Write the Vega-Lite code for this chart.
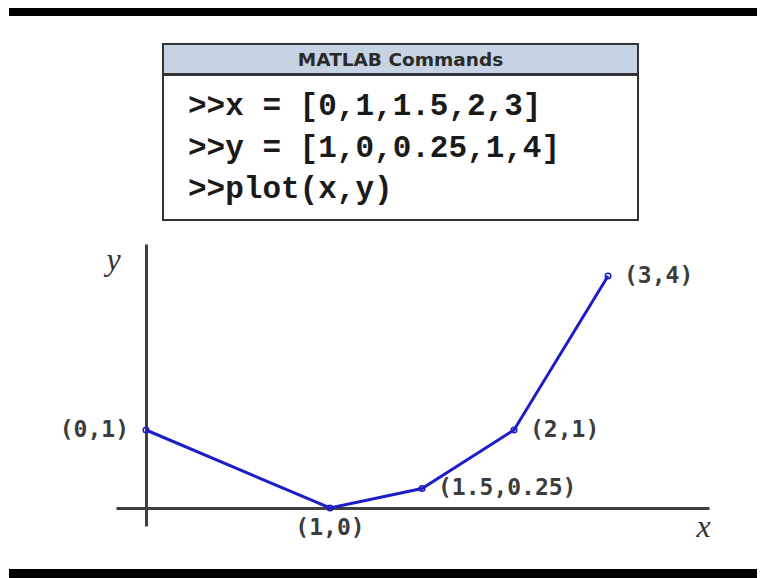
{
  "$schema": "https://vega.github.io/schema/vega-lite/v6.json",
  "background": "white",
  "padding": {"left": 9, "top": 8, "right": 0, "bottom": 0},
  "spacing": 27,
  "config": {"view": {"stroke": null}},
  "vconcat": [
    {
      "width": 748,
      "height": 8,
      "view": {"fill": "black", "stroke": null},
      "data": {"values": [{}]},
      "mark": {"type": "rect", "color": "black"},
      "encoding": {}
    },
    {
      "spacing": 22,
      "vconcat": [
        {
          "spacing": 0,
          "hconcat": [
            {
              "width": 153,
              "height": 1,
              "data": {"values": []},
              "mark": "point",
              "encoding": {}
            },
            {
              "spacing": -2,
              "vconcat": [
                {
                  "width": 475,
                  "height": 30,
                  "view": {"fill": "#c6d3e3", "stroke": "#333333", "strokeWidth": 2},
                  "data": {"values": [{"title": "MATLAB Commands"}]},
                  "mark": {"type": "text", "font": "DejaVu Sans", "fontWeight": "bold", "fontSize": 18.5, "color": "#2a2a2a", "baseline": "middle", "align": "center", "dy": 1},
                  "encoding": {"text": {"field": "title"}}
                },
                {
                  "width": 475,
                  "height": 145,
                  "view": {"fill": "white", "stroke": "#333333", "strokeWidth": 2},
                  "data": {"values": [
                    {"order": 1, "cmd": ">>x = [0,1,1.5,2,3]"},
                    {"order": 2, "cmd": ">>y = [1,0,0.25,1,4]"},
                    {"order": 3, "cmd": ">>plot(x,y)"}
                  ]},
                  "mark": {"type": "text", "font": "Liberation Mono", "fontWeight": "bold", "fontSize": 31, "color": "#1a1a1a", "align": "left", "baseline": "middle", "dx": -212.5},
                  "encoding": {
                    "y": {"field": "order", "type": "ordinal", "axis": null, "scale": {"type": "point", "padding": 0.768}},
                    "text": {"field": "cmd"}
                  }
                }
              ]
            }
          ]
        },
        {
          "spacing": 0,
          "hconcat": [
            {
              "width": 50,
              "height": 1,
              "data": {"values": []},
              "mark": "point",
              "encoding": {}
            },
            {
              "width": 593,
              "height": 282,
              "data": {"values": [
                {"x": 0, "y": 1, "label": "(0,1)"},
                {"x": 1, "y": 0, "label": "(1,0)"},
                {"x": 1.5, "y": 0.25, "label": "(1.5,0.25)"},
                {"x": 2, "y": 1, "label": "(2,1)"},
                {"x": 3, "y": 4, "label": "(3,4)"}
              ]},
              "encoding": {
                "x": {
                  "field": "x", "type": "quantitative",
                  "scale": {"domain": [-0.163, 2, 4.074], "range": [0, 398, 593], "zero": false, "nice": false},
                  "axis": {
                    "title": "x", "orient": "bottom", "offset": -18,
                    "domain": true, "domainColor": "#404040", "domainWidth": 3,
                    "ticks": false, "labels": false, "grid": false, "minExtent": 0,
                    "titleFont": "Liberation Serif", "titleFontStyle": "italic", "titleFontWeight": "normal",
                    "titleFontSize": 32, "titleColor": "#333333",
                    "titleX": 587, "titleY": 18, "titleAlign": "center", "titleBaseline": "middle", "titleAngle": 0
                  }
                },
                "y": {
                  "field": "y", "type": "quantitative",
                  "scale": {"domain": [-0.231, 1, 4.623], "range": [282, 186, 0], "zero": false, "nice": false},
                  "axis": {
                    "title": "y", "orient": "left", "offset": -30,
                    "domain": true, "domainColor": "#404040", "domainWidth": 3,
                    "ticks": false, "labels": false, "grid": false, "minExtent": 0,
                    "titleFont": "Liberation Serif", "titleFontStyle": "italic", "titleFontWeight": "normal",
                    "titleFontSize": 32, "titleColor": "#333333",
                    "titleX": -33, "titleY": 15, "titleAlign": "center", "titleBaseline": "middle", "titleAngle": 0
                  }
                }
              },
              "layer": [
                {"mark": {"type": "line", "color": "#1e1ec8", "strokeWidth": 3}},
                {"mark": {"type": "point", "shape": "circle", "filled": false, "size": 32, "color": "#1e1ec8", "strokeWidth": 1.5, "opacity": 1}},
                {
                  "transform": [{"filter": "datum.x >= 1.5"}],
                  "mark": {"type": "text", "align": "left", "baseline": "middle", "dx": 16, "font": "DejaVu Sans Mono", "fontWeight": "bold", "fontSize": 23, "color": "#3c3c3c"},
                  "encoding": {"text": {"field": "label"}}
                },
                {
                  "transform": [{"filter": "datum.x == 0"}],
                  "mark": {"type": "text", "align": "right", "baseline": "middle", "dx": -17, "font": "DejaVu Sans Mono", "fontWeight": "bold", "fontSize": 23, "color": "#3c3c3c"},
                  "encoding": {"text": {"field": "label"}}
                },
                {
                  "transform": [{"filter": "datum.x == 1"}],
                  "mark": {"type": "text", "align": "center", "baseline": "middle", "dy": 20, "font": "DejaVu Sans Mono", "fontWeight": "bold", "fontSize": 23, "color": "#3c3c3c"},
                  "encoding": {"text": {"field": "label"}}
                }
              ]
            }
          ]
        }
      ]
    },
    {
      "width": 748,
      "height": 10,
      "view": {"fill": "black", "stroke": null},
      "data": {"values": [{}]},
      "mark": {"type": "rect", "color": "black"},
      "encoding": {}
    }
  ]
}
